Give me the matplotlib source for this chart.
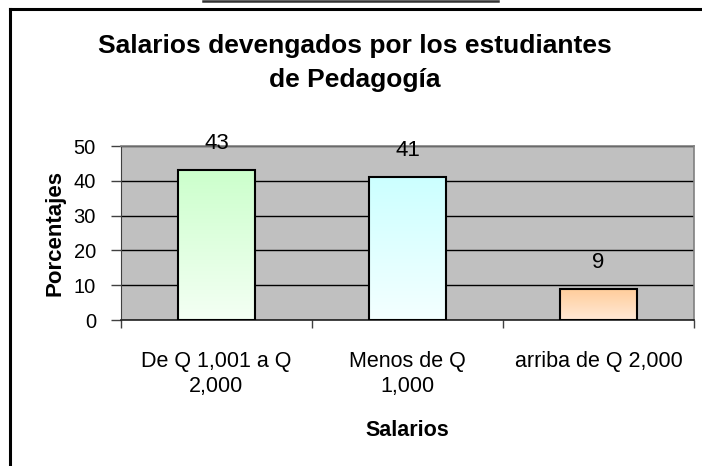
import numpy as np
import matplotlib
matplotlib.use("Agg")
import matplotlib.pyplot as plt
from matplotlib.colors import LinearSegmentedColormap
from matplotlib.lines import Line2D

plt.rcParams['font.family'] = ['Liberation Sans', 'DejaVu Sans']

# data
categorias = ["De Q 1,001 a Q\n2,000", "Menos de Q\n1,000", "arriba de Q 2,000"]
porcentajes = [43, 41, 9]
color_arriba = ["#ccffcc", "#ccffff", "#ffcc99"]
color_abajo = ["#f4fff4", "#f4ffff", "#ffe9d6"]

titulo = "Salarios devengados por los estudiantes\nde Pedagogía"

fig = plt.figure(figsize=(7.02, 4.66), dpi=100)
ax = fig.add_axes([121 / 702, 1 - 320 / 466, (694 - 121) / 702, (320 - 146) / 466])
ax.set_facecolor("#c0c0c0")

ancho = 0.40
x = np.arange(len(categorias))

# gradient filled bars
grad = np.linspace(0, 1, 256).reshape(-1, 1)
for i, v in enumerate(porcentajes):
    cmap = LinearSegmentedColormap.from_list("g%d" % i, [color_abajo[i], color_arriba[i]])
    ax.imshow(grad, extent=[x[i] - ancho / 2, x[i] + ancho / 2, 0, v],
              origin="lower", aspect="auto", cmap=cmap, zorder=3)
ax.bar(x, porcentajes, width=ancho, fill=False, edgecolor="black", linewidth=1.5, zorder=4)

for i, v in enumerate(porcentajes):
    ax.annotate(str(v), (x[i], v), xytext=(0, 19), textcoords="offset points",
                ha="center", va="center", fontsize=16)

ax.set_xlim(-0.5, len(categorias) - 0.5)
ax.set_ylim(0, 50)
ax.set_yticks([0, 10, 20, 30, 40, 50])
ax.yaxis.grid(True, color="black", linewidth=1)
ax.set_axisbelow(True)

ax.set_xticks(x)
ax.set_xticklabels(categorias, fontsize=15.5, linespacing=1.3)
ax.set_xticks(np.arange(-0.5, len(categorias)), minor=True)
ax.tick_params(axis="x", which="major", length=0, pad=22)
ax.tick_params(axis="x", which="minor", length=6, width=1, color="#404040", direction="out")
ax.tick_params(axis="y", length=7, width=1, color="#404040", labelsize=14.5, pad=11)

for s in ["top", "right"]:
    ax.spines[s].set_color("#808080")
    ax.spines[s].set_linewidth(1.2)
ax.spines["left"].set_color("#404040")
ax.spines["bottom"].set_color("#202020")
ax.spines["bottom"].set_linewidth(1.2)

ax.set_ylabel("Porcentajes", fontsize=16, fontweight="bold", labelpad=6)
ax.set_xlabel("Salarios", fontsize=15.5, fontweight="bold", labelpad=16)

fig.text(355 / 702, 1 - 63 / 466, titulo, ha="center", va="center",
         fontsize=19, fontweight="bold", linespacing=1.55)

# outer frame (clipped on the right and bottom) and short line at the top
fig.add_artist(Line2D([10 / 702, 10 / 702], [0, 1 - 9 / 466], transform=fig.transFigure,
                      color="black", linewidth=2.2))
fig.add_artist(Line2D([10 / 702, 1], [1 - 9 / 466, 1 - 9 / 466], transform=fig.transFigure,
                      color="black", linewidth=2.2))
fig.add_artist(Line2D([203 / 702, 498 / 702], [1 - 1 / 466, 1 - 1 / 466], transform=fig.transFigure,
                      color="#333333", linewidth=1.8))

fig.savefig("out.png", dpi=100)
